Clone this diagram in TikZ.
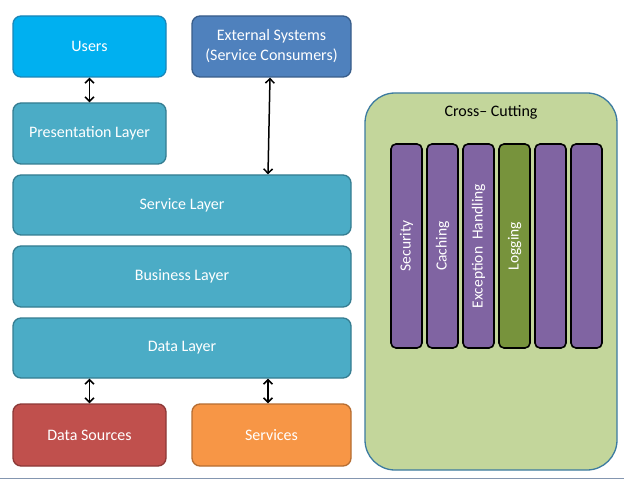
\documentclass[tikz,border=0pt]{standalone}
\usepackage{fontspec}
\setmainfont{Carlito}
\usetikzlibrary{arrows.meta}
\definecolor{usersfill}{HTML}{00B0F0}
\definecolor{usersline}{HTML}{1A86B8}
\definecolor{extfill}{HTML}{4F81BD}
\definecolor{extline}{HTML}{385D8A}
\definecolor{layerfill}{HTML}{4BACC6}
\definecolor{layerline}{HTML}{357D91}
\definecolor{redfill}{HTML}{C0504D}
\definecolor{redline}{HTML}{8C3836}
\definecolor{orangefill}{HTML}{F79646}
\definecolor{orangeline}{HTML}{B66D31}
\definecolor{crossfill}{HTML}{C3D69B}
\definecolor{crossline}{HTML}{3C7BA0}
\definecolor{purplefill}{HTML}{8064A2}
\definecolor{logfill}{HTML}{77933C}
\definecolor{bottomline}{HTML}{8496B0}
\begin{document}
\begin{tikzpicture}[x=1pt,y=1pt,
  box/.style={draw, line width=1.3pt, rounded corners=8pt, text=white,
    font=\fontsize{16}{20}\selectfont, align=center, inner sep=0pt},
  colbox/.style={draw=black, line width=1.6pt, rounded corners=5pt,
    minimum width=31pt, minimum height=204pt, inner sep=0pt},
  coltext/.style={rotate=90, text=white, font=\fontsize{15.5}{18}\selectfont},
  link/.style={line width=1.5pt, black, {Straight Barb[length=4.5pt,width=9pt]}-{Straight Barb[length=4.5pt,width=9pt]}}
]
\useasboundingbox (0,0) rectangle (624,480);
\fill[white] (0,0) rectangle (624,480);
\draw[bottomline, line width=1.2pt] (0,1.5) -- (624,1.5);

\node[box, fill=usersfill, draw=usersline, minimum width=153pt, minimum height=61pt] (users) at (89.5,433.5) {Users};
\node[box, fill=extfill, draw=extline, minimum width=159pt, minimum height=61pt] (ext) at (271.5,433.5) {External Systems\\(Service Consumers)};
\node[box, fill=layerfill, draw=layerline, minimum width=153pt, minimum height=61pt] (pres) at (89.5,346.5) {Presentation Layer};
\node[box, fill=layerfill, draw=layerline, minimum width=338pt, minimum height=60pt] (service) at (182,275) {Service Layer};
\node[box, fill=layerfill, draw=layerline, minimum width=338pt, minimum height=61pt] (business) at (182,203.5) {Business Layer};
\node[box, fill=layerfill, draw=layerline, minimum width=338pt, minimum height=60pt] (data) at (182,132) {Data Layer};
\node[box, fill=redfill, draw=redline, minimum width=153pt, minimum height=62pt] (sources) at (89.5,45) {Data Sources};
\node[box, fill=orangefill, draw=orangeline, minimum width=159pt, minimum height=62pt] (services) at (271.5,45) {Services};

\node[draw=crossline, fill=crossfill, line width=1.3pt, rounded corners=30pt,
  minimum width=252pt, minimum height=377pt, inner sep=0pt] (cross) at (491,198.5) {};
\node[font=\fontsize{16}{18}\selectfont, text=black] (crosstitle) at (491,368) {Cross– Cutting};

\node[colbox, fill=purplefill] (c1) at (406.5,234) {};
\node[colbox, fill=purplefill] (c2) at (442.5,234) {};
\node[colbox, fill=purplefill] (c3) at (478.5,234) {};
\node[colbox, fill=logfill] (c4) at (514.5,234) {};
\node[colbox, fill=purplefill] (c5) at (550.5,234) {};
\node[colbox, fill=purplefill] (c6) at (586.5,234) {};
\node[coltext] (t1) at (c1) {Security};
\node[coltext] (t2) at (c2) {Caching};
\node[coltext] (t3) at (c3) {Exception~ Handling};
\node[coltext] (t4) at (c4) {Logging};

\draw[link] (users.south) -- (pres.north);
\draw[link] ([xshift=-1.5pt]ext.south) -- ([xshift=86pt]service.north);
\draw[link] (data.south -| sources.north) -- (sources.north);
\draw[link] ([xshift=86pt]data.south) -- ([xshift=-3.5pt]services.north);
\end{tikzpicture}
\end{document}
